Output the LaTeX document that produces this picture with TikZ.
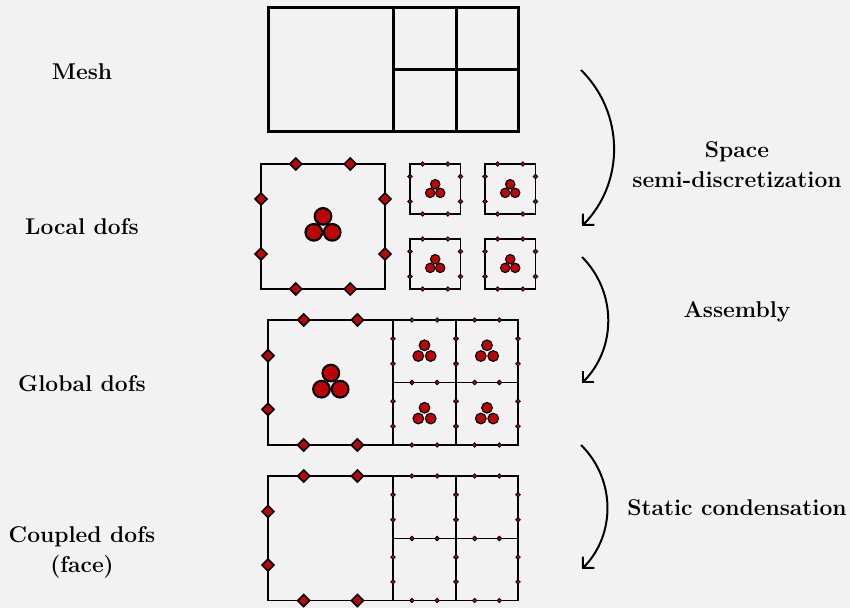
\documentclass[tikz,border=0pt]{standalone}
\usetikzlibrary{arrows.meta}
\definecolor{dofred}{RGB}{192,0,0}
\definecolor{paper}{RGB}{242,242,242}
\tikzset{
  meshline/.style={line width=1.5pt},
  elemline/.style={line width=0.6pt},
  dofmk/.style={fill=dofred,draw=black},
  lab/.style={font=\fontsize{11.4}{15}\selectfont\bfseries,align=center},
  flow/.style={line width=1pt,-{Straight Barb[length=4pt,width=8pt]},bend left=45},
}
% one diamond-shaped dof marker: centre, half-diagonal, line width
\newcommand\dofmark[3]{\filldraw[dofmk,line width=#3] (#1) +(#2,0) -- +(0,#2) -- +(-#2,0) -- +(0,-#2) -- cycle;}
% two markers on a horizontal edge: x0, x1, y, fraction, half-diagonal, line width
\newcommand\hdofs[6]{\foreach \t in {#4,1-#4}{\dofmark{{#1+(\t)*(#2-#1)},#3}{#5}{#6}}}
% two markers on a vertical edge: x, y0, y1, fraction, half-diagonal, line width
\newcommand\vdofs[6]{\foreach \t in {#4,1-#4}{\dofmark{#1,{#2+(\t)*(#3-#2)}}{#5}{#6}}}
% markers on all four edges of a cell: x0, y0, x1, y1, fraction, half-diagonal, line width
\newcommand\celldofs[7]{%
  \hdofs{#1}{#3}{#2}{#5}{#6}{#7}\hdofs{#1}{#3}{#4}{#5}{#6}{#7}%
  \vdofs{#1}{#2}{#4}{#5}{#6}{#7}\vdofs{#3}{#2}{#4}{#5}{#6}{#7}}
% three interior modes: centroid x, y, spacing, radius, line width
\newcommand\modecluster[5]{%
  \filldraw[dofmk,line width=#5] ({#1},{#2-0.577*#3}) circle (#4);
  \filldraw[dofmk,line width=#5] ({#1-0.5*#3},{#2+0.2887*#3}) circle (#4);
  \filldraw[dofmk,line width=#5] ({#1+0.5*#3},{#2+0.2887*#3}) circle (#4);}
\begin{document}
\begin{tikzpicture}[x=0.5pt,y=-0.5pt]
\fill[paper] (0,0) rectangle (850,608);
\useasboundingbox (0,0) rectangle (850,608);

% ---- mesh
\draw[meshline] (268,8) rectangle (518,132);
\draw[meshline] (393,8) -- (393,132) (456,8) -- (456,132) (393,70) -- (518,70);

% ---- local dofs: elements taken apart
\draw[elemline] (261,164) rectangle (385,289);
\celldofs{261}{164}{385}{289}{0.28}{6}{0.8pt}
\modecluster{323}{227}{18.4}{8.3}{1.1pt}
\foreach \x/\y in {410/164,485/164,410/239,485/239}{
  \draw[elemline] (\x,\y) rectangle ++(50.5,50);
  \celldofs{\x}{\y}{\x+50.5}{\y+50}{0.25}{2.2}{0.4pt}
  \modecluster{\x+25.2}{\y+26}{10}{4.7}{0.55pt}
}

% ---- global dofs: assembled mesh
\draw[elemline] (268,320) rectangle (518,445);
\draw[elemline] (393,320) -- (393,445) (456,320) -- (456,445) (393,382.5) -- (518,382.5);
\hdofs{268}{393}{320}{0.285}{6}{0.8pt}
\hdofs{268}{393}{445}{0.285}{6}{0.8pt}
\vdofs{268}{320}{445}{0.285}{6}{0.8pt}
\modecluster{330.8}{383.8}{18.6}{8.3}{1.1pt}
\foreach \x/\xx in {393/456,456/518}{
  \foreach \y/\yy in {320/382.5,382.5/445}{
    \celldofs{\x}{\y}{\xx}{\yy}{0.3}{2.2}{0.4pt}
    \modecluster{(\x+\xx)/2}{(\y+\yy)/2+1.2}{12.4}{5.3}{0.6pt}
  }
}

% ---- coupled (face) dofs after static condensation
\draw[elemline] (268,476) rectangle (518,600.5);
\draw[elemline] (393,476) -- (393,600.5) (456,476) -- (456,600.5) (393,538.5) -- (518,538.5);
\hdofs{268}{393}{476}{0.285}{6}{0.8pt}
\hdofs{268}{393}{600.5}{0.285}{6}{0.8pt}
\vdofs{268}{476}{600.5}{0.285}{6}{0.8pt}
\foreach \x/\xx in {393/456,456/518}{
  \foreach \y/\yy in {476/538.5,538.5/600.5}{
    \celldofs{\x}{\y}{\xx}{\yy}{0.3}{2.2}{0.4pt}
  }
}

% ---- row labels
\node[lab] (lmesh) at (82,72) {Mesh};
\node[lab] (llocal) at (82,227) {Local dofs};
\node[lab] (lglobal) at (82,384) {Global dofs};
\node[lab] (lcoupled) at (82,552) {Coupled dofs\\(face)};

% ---- process steps
\coordinate (s1a) at (581,70);
\coordinate (s1b) at (582,226);
\coordinate (s2a) at (582,257);
\coordinate (s2b) at (582,383);
\coordinate (s3a) at (581,445);
\coordinate (s3b) at (582,569);
\draw[flow] (s1a) to (s1b);
\draw[flow] (s2a) to (s2b);
\draw[flow] (s3a) to (s3b);
\node[lab] (tspace) at (737,165) {Space\\semi-discretization};
\node[lab] (tassembly) at (737,312) {Assembly};
\node[lab] (tcond) at (737,508) {Static condensation};
\end{tikzpicture}
\end{document}
